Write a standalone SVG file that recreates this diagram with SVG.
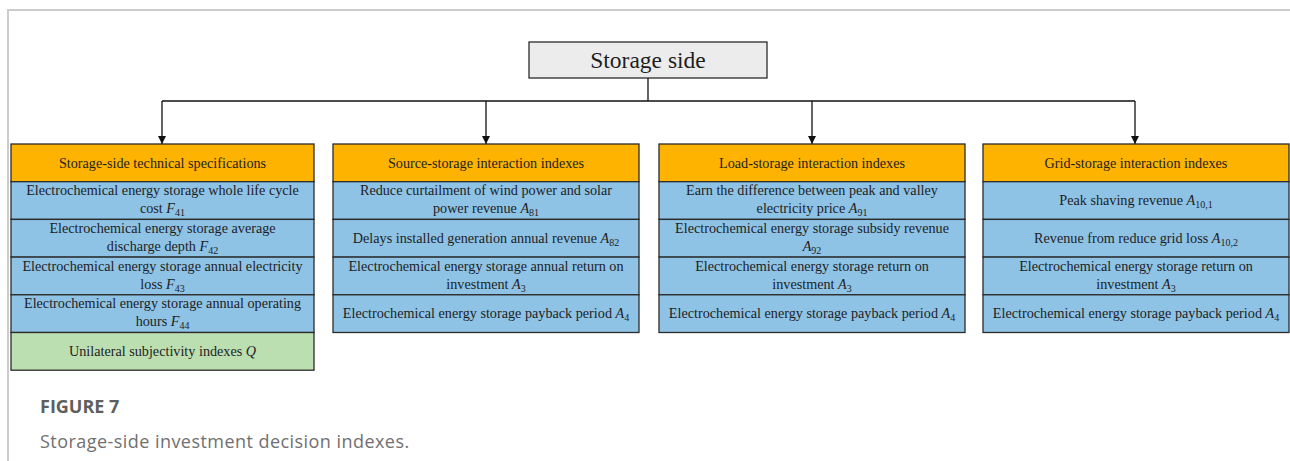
<svg xmlns="http://www.w3.org/2000/svg" width="1290" height="461" viewBox="0 0 1290 461">
  <style>
    .frame { fill: none; stroke: #cccccc; }
    .box { stroke: #2b2b2b; stroke-width: 1.3; }
    .top { fill: #ececec; }
    .head { fill: #fdb300; }
    .item { fill: #8ec3e6; }
    .subj { fill: #bcdfb2; }
    .t { font-family: "Liberation Serif", "Times New Roman", serif; font-size: 14.2px; fill: #1e1e1e; text-anchor: middle; }
    .title { font-size: 23.5px; }
    .v { font-style: italic; }
    .s { font-size: 10px; font-style: normal; }
    .link { fill: none; stroke: #111111; stroke-width: 1.3; }
    .cap1 { font-family: "Open Sans", "Liberation Sans", sans-serif; font-size: 18px; font-weight: bold; fill: #5e5e5e; }
    .cap2 { font-family: "Open Sans", "Liberation Sans", sans-serif; font-size: 18px; letter-spacing: 0.45px; fill: #707070; }
  </style>
  <defs>
    <marker id="arrow" viewBox="0 0 10 10" refX="10" refY="5" markerWidth="8" markerHeight="8" markerUnits="userSpaceOnUse" orient="auto">
      <path d="M0,0 L10,5 L0,10 Z" fill="#111111"/>
    </marker>
  </defs>

  <!-- page frame -->
  <path class="frame" d="M8,461 V10 H1290" stroke-width="2"/>

  <!-- root -->
  <g id="storage-side">
    <rect class="box top" x="529" y="42" width="238" height="36"/>
    <text class="t title" x="648" y="68">Storage side</text>
  </g>

  <!-- connectors -->
  <g id="connectors">
    <path class="link" d="M648,78 V101"/>
    <path class="link" d="M162,101 H1135"/>
    <path class="link" d="M162,101 V144" marker-end="url(#arrow)"/>
    <path class="link" d="M486,101 V144" marker-end="url(#arrow)"/>
    <path class="link" d="M812,101 V144" marker-end="url(#arrow)"/>
    <path class="link" d="M1135,101 V144" marker-end="url(#arrow)"/>
  </g>

  <!-- column 1 -->
  <g id="technical-specifications">
    <rect class="box head" x="11" y="144" width="303" height="37.7"/>
    <rect class="box item" x="11" y="181.7" width="303" height="37.7"/>
    <rect class="box item" x="11" y="219.4" width="303" height="37.7"/>
    <rect class="box item" x="11" y="257.1" width="303" height="37.7"/>
    <rect class="box item" x="11" y="294.8" width="303" height="37.7"/>
    <rect class="box subj" x="11" y="332.5" width="303" height="37.7"/>
    <text class="t" x="162.5" y="168">Storage-side technical specifications</text>
    <text class="t" x="162.5" y="195">Electrochemical energy storage whole life cycle</text>
    <text class="t" x="162.5" y="213">cost <tspan class="v">F</tspan><tspan class="s" dy="3">41</tspan></text>
    <text class="t" x="162.5" y="233">Electrochemical energy storage average</text>
    <text class="t" x="162.5" y="251">discharge depth <tspan class="v">F</tspan><tspan class="s" dy="3">42</tspan></text>
    <text class="t" x="162.5" y="270.5">Electrochemical energy storage annual electricity</text>
    <text class="t" x="162.5" y="288.5">loss <tspan class="v">F</tspan><tspan class="s" dy="3">43</tspan></text>
    <text class="t" x="162.5" y="308">Electrochemical energy storage annual operating</text>
    <text class="t" x="162.5" y="326">hours <tspan class="v">F</tspan><tspan class="s" dy="3">44</tspan></text>
    <text class="t" x="162.5" y="355.8">Unilateral subjectivity indexes <tspan class="v">Q</tspan></text>
  </g>

  <!-- column 2 -->
  <g id="source-storage">
    <rect class="box head" x="333" y="144" width="306" height="37.7"/>
    <rect class="box item" x="333" y="181.7" width="306" height="37.7"/>
    <rect class="box item" x="333" y="219.4" width="306" height="37.7"/>
    <rect class="box item" x="333" y="257.1" width="306" height="37.7"/>
    <rect class="box item" x="333" y="294.8" width="306" height="37.7"/>
    <text class="t" x="486" y="168">Source-storage interaction indexes</text>
    <text class="t" x="486" y="195">Reduce curtailment of wind power and solar</text>
    <text class="t" x="486" y="213">power revenue <tspan class="v">A</tspan><tspan class="s" dy="3">81</tspan></text>
    <text class="t" x="486" y="242.5">Delays installed generation annual revenue <tspan class="v">A</tspan><tspan class="s" dy="3">82</tspan></text>
    <text class="t" x="486" y="270.5">Electrochemical energy storage annual return on</text>
    <text class="t" x="486" y="288.5">investment <tspan class="v">A</tspan><tspan class="s" dy="3">3</tspan></text>
    <text class="t" x="486" y="318">Electrochemical energy storage payback period <tspan class="v">A</tspan><tspan class="s" dy="3">4</tspan></text>
  </g>

  <!-- column 3 -->
  <g id="load-storage">
    <rect class="box head" x="659" y="144" width="306" height="37.7"/>
    <rect class="box item" x="659" y="181.7" width="306" height="37.7"/>
    <rect class="box item" x="659" y="219.4" width="306" height="37.7"/>
    <rect class="box item" x="659" y="257.1" width="306" height="37.7"/>
    <rect class="box item" x="659" y="294.8" width="306" height="37.7"/>
    <text class="t" x="812" y="168">Load-storage interaction indexes</text>
    <text class="t" x="812" y="195">Earn the difference between peak and valley</text>
    <text class="t" x="812" y="213">electricity price <tspan class="v">A</tspan><tspan class="s" dy="3">91</tspan></text>
    <text class="t" x="812" y="233">Electrochemical energy storage subsidy revenue</text>
    <text class="t" x="812" y="251"><tspan class="v">A</tspan><tspan class="s" dy="3">92</tspan></text>
    <text class="t" x="812" y="270.5">Electrochemical energy storage return on</text>
    <text class="t" x="812" y="288.5">investment <tspan class="v">A</tspan><tspan class="s" dy="3">3</tspan></text>
    <text class="t" x="812" y="318">Electrochemical energy storage payback period <tspan class="v">A</tspan><tspan class="s" dy="3">4</tspan></text>
  </g>

  <!-- column 4 -->
  <g id="grid-storage">
    <rect class="box head" x="983" y="144" width="306" height="37.7"/>
    <rect class="box item" x="983" y="181.7" width="306" height="37.7"/>
    <rect class="box item" x="983" y="219.4" width="306" height="37.7"/>
    <rect class="box item" x="983" y="257.1" width="306" height="37.7"/>
    <rect class="box item" x="983" y="294.8" width="306" height="37.7"/>
    <text class="t" x="1136" y="168">Grid-storage interaction indexes</text>
    <text class="t" x="1136" y="205">Peak shaving revenue <tspan class="v">A</tspan><tspan class="s" dy="3">10,1</tspan></text>
    <text class="t" x="1136" y="242.5">Revenue from reduce grid loss <tspan class="v">A</tspan><tspan class="s" dy="3">10,2</tspan></text>
    <text class="t" x="1136" y="270.5">Electrochemical energy storage return on</text>
    <text class="t" x="1136" y="288.5">investment <tspan class="v">A</tspan><tspan class="s" dy="3">3</tspan></text>
    <text class="t" x="1136" y="318">Electrochemical energy storage payback period <tspan class="v">A</tspan><tspan class="s" dy="3">4</tspan></text>
  </g>

  <!-- caption -->
  <text class="cap1" x="40" y="413">FIGURE 7</text>
  <text class="cap2" x="40" y="448">Storage-side investment decision indexes.</text>
</svg>
